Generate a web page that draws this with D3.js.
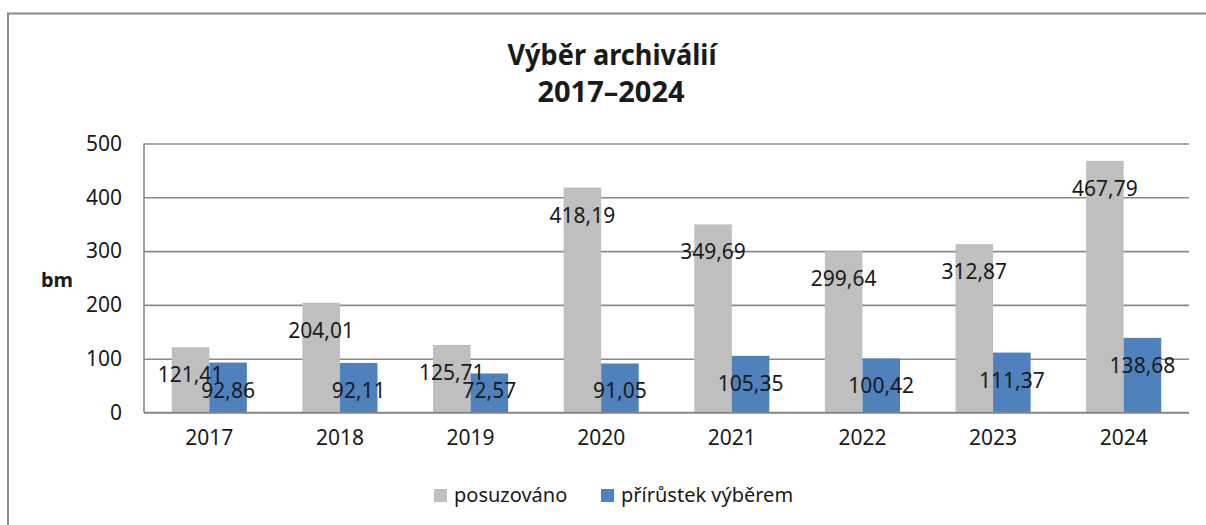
<!DOCTYPE html>
<html>
<head>
<meta charset="utf-8">
<script src="https://cdn.jsdelivr.net/npm/d3@7"></script>
<style>
  body { margin: 0; background: #fff; }
  text { font-family: "Noto Sans", sans-serif; fill: #1a1a1a; }
</style>
</head>
<body>
<div id="chart-area"></div>
<script>
// data
const years = ["2017", "2018", "2019", "2020", "2021", "2022", "2023", "2024"];
const posuzovano = [121.41, 204.01, 125.71, 418.19, 349.69, 299.64, 312.87, 467.79];
const prirustek = [92.86, 92.11, 72.57, 91.05, 105.35, 100.42, 111.37, 138.68];
const seriesNames = ["posuzováno", "přírůstek výběrem"];
const yTicks = [0, 100, 200, 300, 400, 500];

const colors = ["#bfbfbf", "#4f81bd"];

const svg = d3.select("#chart-area").append("svg")
    .attr("width", 1206)
    .attr("height", 525);

// outer frame (only left and top edges are visible)
svg.append("rect")
    .attr("x", 8).attr("y", 13.5)
    .attr("width", 1300).attr("height", 600)
    .attr("fill", "none")
    .attr("stroke", "#888")
    .attr("stroke-width", 2);

const plot = { left: 144, right: 1189, top: 143.5, bottom: 412.5 };

const x0 = d3.scaleBand()
    .domain(years)
    .range([plot.left, plot.right])
    .paddingInner(0.425)
    .paddingOuter(0.2125);

const x1 = d3.scaleBand()
    .domain(seriesNames)
    .range([0, x0.bandwidth()]);

const y = d3.scaleLinear()
    .domain([0, 500])
    .range([plot.bottom, plot.top]);

const fmt = d3.formatLocale({ decimal: ",", thousands: " ", grouping: [3], currency: ["", ""] }).format(".2f");

// gridlines + y tick labels
const yAxis = svg.append("g")
    .attr("transform", `translate(${plot.left},0)`)
    .call(d3.axisLeft(y).tickValues(yTicks).tickSize(-(plot.right - plot.left)).tickPadding(22));
yAxis.select(".domain").remove();
yAxis.selectAll(".tick line").attr("stroke", "#898989").attr("stroke-width", 1.6);
yAxis.selectAll(".tick text").style("font-size", "21px").attr("fill", "#1a1a1a");

// left axis line
svg.append("line")
    .attr("x1", plot.left).attr("x2", plot.left)
    .attr("y1", plot.top).attr("y2", plot.bottom)
    .attr("stroke", "#898989").attr("stroke-width", 1.6);

// x axis labels
const xAxis = svg.append("g")
    .attr("transform", `translate(0,${plot.bottom})`)
    .call(d3.axisBottom(x0).tickSize(0).tickPadding(18));
xAxis.select(".domain").remove();
xAxis.selectAll(".tick text").style("font-size", "21px").attr("fill", "#1a1a1a");

const rows = years.map((yr, i) => ({ year: yr, values: [posuzovano[i], prirustek[i]] }));

const groups = svg.selectAll(".grp")
    .data(rows).enter()
    .append("g")
    .attr("transform", d => `translate(${x0(d.year)},0)`);

groups.selectAll("rect")
    .data(d => d.values.map((v, k) => ({ name: seriesNames[k], value: v, k })))
    .enter().append("rect")
    .attr("x", d => x1(d.name))
    .attr("y", d => y(d.value))
    .attr("width", x1.bandwidth())
    .attr("height", d => plot.bottom - y(d.value))
    .attr("fill", d => colors[d.k]);

// bottom axis line drawn over the bars
svg.append("line")
    .attr("x1", plot.left).attr("x2", plot.right)
    .attr("y1", plot.bottom).attr("y2", plot.bottom)
    .attr("stroke", "#898989").attr("stroke-width", 1.6);

// data labels (inside end, kept above the axis for short bars)
groups.selectAll(".lbl")
    .data(d => d.values.map((v, k) => ({ name: seriesNames[k], value: v, k })))
    .enter().append("text")
    .attr("x", d => x1(d.name) + x1.bandwidth() / 2)
    .attr("y", d => Math.min(y(d.value) + 27.5, plot.bottom - 22.5) + 7.5)
    .attr("text-anchor", "middle")
    .style("font-size", "21px")
    .text(d => fmt(d.value));

// y axis title
svg.append("text")
    .attr("x", 57).attr("y", 287)
    .attr("text-anchor", "middle")
    .style("font-size", "20px")
    .style("font-weight", "bold")
    .text("bm");

// title
svg.append("text")
    .attr("x", 612).attr("y", 65)
    .attr("text-anchor", "middle")
    .style("font-size", "29px")
    .style("font-weight", "bold")
    .attr("textLength", 209)
    .attr("lengthAdjust", "spacingAndGlyphs")
    .text("Výběr archiválií");
svg.append("text")
    .attr("x", 611).attr("y", 102)
    .attr("text-anchor", "middle")
    .style("font-size", "29px")
    .style("font-weight", "bold")
    .text("2017–2024");

// legend
const legendX = [434, 601];
const legend = svg.selectAll(".leg")
    .data(seriesNames).enter()
    .append("g")
    .attr("transform", (d, i) => `translate(${legendX[i]},489)`);
legend.append("rect")
    .attr("width", 13).attr("height", 13)
    .attr("fill", (d, i) => colors[i]);
legend.append("text")
    .attr("x", 20).attr("y", 13)
    .style("font-size", "20px")
    .text(d => d);
</script>
</body>
</html>
